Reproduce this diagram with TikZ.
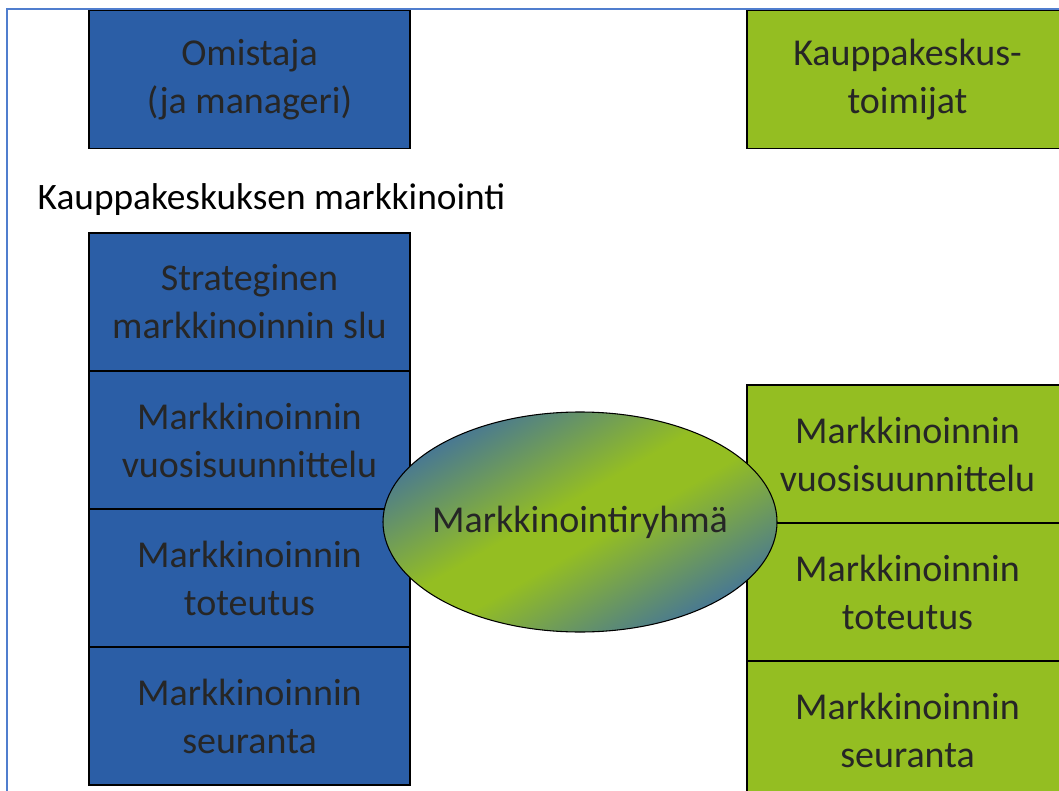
\documentclass[tikz,border=0pt]{standalone}
\usepackage{fontspec}
\setmainfont{Carlito}
\usetikzlibrary{positioning,shapes.geometric}
\definecolor{boxblue}{RGB}{43,94,166}
\definecolor{boxgreen}{RGB}{148,190,34}
\definecolor{ovalblue}{RGB}{70,118,150}
\definecolor{frameblue}{RGB}{80,126,206}
\pgfdeclareverticalshading{ovalfade}{100bp}{color(0bp)=(ovalblue); color(25bp)=(ovalblue); color(46bp)=(boxgreen); color(54bp)=(boxgreen); color(75bp)=(ovalblue); color(100bp)=(ovalblue)}

\begin{document}
\begin{tikzpicture}[
  x=0.75pt, y=-0.75pt,
  node distance=0pt,
  cell/.style={draw=black, line width=0.9pt, minimum width=240.75pt, minimum height=103.5pt, inner sep=0pt, outer sep=0pt, align=center, text=black!85, font=\fontsize{28.5}{36}\selectfont},
  bluecell/.style={cell, fill=boxblue},
  greencell/.style={cell, fill=boxgreen},
  oval/.style={ellipse, draw=black, line width=0.8pt, minimum width=295.5pt, minimum height=165pt, inner sep=0pt, text=black!85, font=\fontsize{28.5}{36}\selectfont, shading=ovalfade, shading angle=30}
]
\path[use as bounding box, clip] (0,0) rectangle (1059,791);
\fill[white] (0,0) rectangle (1059,791);
\draw[frameblue, line width=1.4pt] (7,800) -- (7,9) -- (1070,9);

% top row
\node[bluecell] (owner) at (249.5,79.5) {Omistaja\\(ja manageri)};
\node[greencell] (actors) at (907.5,79.5) {Kauppakeskus-\\toimijat};

\node[anchor=west, font=\fontsize{28}{34}\selectfont] (title) at (33,200) {Kauppakeskuksen markkinointi};

% left stack
\node[bluecell] (strat) at (249.5,302) {Strateginen\\markkinoinnin slu};
\node[bluecell, below=of strat] (plan) {Markkinoinnin\\vuosisuunnittelu};
\node[bluecell, below=of plan] (impl) {Markkinoinnin\\toteutus};
\node[bluecell, below=of impl] (follow) {Markkinoinnin\\seuranta};

% right stack
\node[greencell] (gplan) at (907.5,454) {Markkinoinnin\\vuosisuunnittelu};
\node[greencell, below=of gplan] (gimpl) {Markkinoinnin\\toteutus};
\node[greencell, below=of gimpl] (gfollow) {Markkinoinnin\\seuranta};

\node[oval] (group) at (580,522) {\makebox[0pt]{Markkinointiryhmä}};
\end{tikzpicture}
\end{document}
